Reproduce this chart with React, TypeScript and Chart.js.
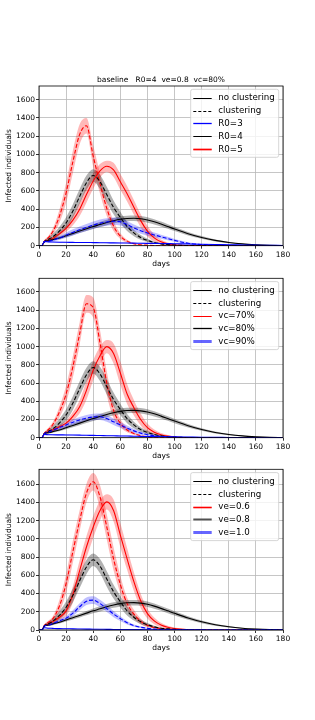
import React, { useEffect, useRef } from "react";
import { Chart, registerables } from "chart.js";

Chart.register(...registerables);

// ---------------- data ----------------
const days = [0, 2, 4, 7, 10, 15, 20, 25, 30, 35, 40, 45, 50, 55, 60, 65, 70, 75, 80, 85, 90, 95, 100, 110, 120, 130, 140, 150, 160, 170, 180];
const xTicks = [0, 20, 40, 60, 80, 100, 120, 140, 160, 180];
const yTicks = [0, 200, 400, 600, 800, 1000, 1200, 1400, 1600];

// baseline (R0=4, ve=0.8, vc=80%) shared by all three panels
const baseNoClust = [0, 0, 45, 55, 65, 85, 110, 135, 160, 185, 210, 232, 255, 274, 289, 298, 300, 295, 282, 262, 237, 210, 183, 132, 90, 58, 35, 20, 11, 5, 2];
const baseNoClustBand = [0, 0, 6, 10, 12, 15, 18, 20, 22, 24, 26, 28, 30, 30, 30, 30, 30, 30, 30, 29, 27, 25, 23, 19, 15, 11, 8, 5, 3, 2, 1];
const baseClust = [0, 0, 45, 70, 95, 160, 250, 380, 540, 690, 770, 700, 560, 420, 310, 210, 140, 90, 58, 35, 20, 12, 7, 2, 1, 0, 0, 0, 0, 0, 0];
const baseClustBand = [0, 0, 10, 20, 32, 45, 62, 75, 80, 78, 68, 78, 85, 75, 62, 50, 36, 26, 18, 12, 8, 5, 4, 1, 0, 0, 0, 0, 0, 0, 0];

// panel 1: R0
const r3NoClust = [0, 0, 45, 42, 40, 38, 37, 36, 35, 35, 34, 33, 32, 31, 30, 29, 28, 27, 26, 25, 24, 23, 22, 19, 16, 13, 10, 8, 6, 4, 3];
const flatBand = [0, 0, 4, 4, 4, 4, 4, 4, 4, 4, 4, 4, 4, 4, 4, 4, 4, 4, 4, 3, 3, 3, 3, 3, 3, 2, 2, 2, 1, 1, 1];
const r3Clust = [0, 0, 45, 52, 60, 85, 115, 145, 175, 200, 225, 245, 260, 268, 262, 232, 195, 165, 140, 118, 98, 78, 58, 27, 13, 6, 3, 1, 0, 0, 0];
const r3ClustBand = [0, 0, 7, 12, 14, 22, 29, 34, 36, 38, 40, 41, 41, 41, 41, 40, 37, 34, 30, 26, 23, 19, 16, 11, 6, 4, 2, 1, 0, 0, 0];
const r5NoClust = [0, 0, 45, 60, 80, 130, 190, 280, 400, 560, 710, 820, 870, 830, 700, 570, 420, 275, 160, 85, 42, 20, 9, 2, 0, 0, 0, 0, 0, 0, 0];
const r5NoClustBand = [0, 0, 8, 13, 20, 26, 36, 55, 75, 88, 87, 74, 62, 78, 87, 85, 80, 72, 58, 39, 26, 16, 8, 3, 0, 0, 0, 0, 0, 0, 0];
const r5Clust = [0, 0, 50, 90, 150, 320, 580, 920, 1220, 1315, 980, 680, 410, 215, 105, 50, 22, 10, 5, 2, 1, 0, 0, 0, 0, 0, 0, 0, 0, 0, 0];
const r5ClustBand = [0, 0, 13, 20, 32, 72, 110, 124, 110, 85, 117, 110, 85, 55, 31, 16, 8, 4, 3, 1, 0, 0, 0, 0, 0, 0, 0, 0, 0, 0, 0];

// panel 2: vaccination coverage
const vc70NoClust = [0, 0, 45, 65, 85, 120, 160, 235, 340, 520, 740, 900, 1000, 925, 710, 480, 330, 200, 110, 60, 32, 17, 8, 2, 0, 0, 0, 0, 0, 0, 0];
const vc70NoClustBand = [0, 0, 8, 13, 20, 23, 29, 48, 72, 104, 110, 98, 72, 110, 130, 110, 85, 65, 45, 29, 20, 13, 6, 3, 0, 0, 0, 0, 0, 0, 0];
const vc70Clust = [0, 0, 50, 90, 140, 280, 480, 780, 1140, 1470, 1430, 1040, 600, 300, 160, 85, 45, 22, 10, 5, 3, 1, 0, 0, 0, 0, 0, 0, 0, 0, 0];
const vc70ClustBand = [0, 0, 13, 20, 26, 58, 91, 117, 124, 98, 110, 143, 130, 85, 45, 26, 13, 6, 4, 1, 0, 0, 0, 0, 0, 0, 0, 0, 0, 0, 0];
const vc90NoClust = [0, 0, 35, 33, 32, 31, 30, 29, 28, 27, 25, 24, 22, 21, 19, 18, 16, 15, 13, 12, 11, 10, 9, 7, 5, 4, 3, 2, 1, 1, 0];
const vc90Clust = [0, 0, 45, 60, 80, 110, 140, 170, 195, 215, 228, 230, 210, 175, 140, 105, 75, 50, 33, 22, 14, 9, 5, 2, 1, 0, 0, 0, 0, 0, 0];
const vc90ClustBand = [0, 0, 7, 12, 14, 19, 24, 29, 31, 34, 36, 36, 36, 35, 32, 29, 24, 18, 13, 10, 6, 4, 2, 1, 0, 0, 0, 0, 0, 0, 0];

// panel 3: vaccine efficacy
const ve06NoClust = [0, 0, 45, 65, 90, 140, 210, 390, 650, 910, 1130, 1310, 1405, 1310, 1040, 780, 530, 320, 180, 100, 55, 30, 16, 5, 1, 0, 0, 0, 0, 0, 0];
const ve06NoClustBand = [0, 0, 7, 14, 18, 30, 54, 90, 114, 120, 120, 110, 84, 120, 132, 120, 102, 78, 54, 36, 24, 17, 11, 4, 1, 0, 0, 0, 0, 0, 0];
const ve06Clust = [0, 0, 50, 85, 120, 260, 510, 860, 1200, 1500, 1625, 1460, 1130, 780, 500, 290, 175, 95, 50, 27, 14, 7, 3, 1, 0, 0, 0, 0, 0, 0, 0];
const ve06ClustBand = [0, 0, 12, 18, 24, 66, 102, 120, 114, 102, 96, 126, 138, 126, 96, 66, 46, 31, 19, 12, 7, 4, 1, 0, 0, 0, 0, 0, 0, 0, 0];
const ve10NoClust = [0, 0, 25, 20, 18, 15, 14, 12, 11, 10, 9, 8, 7, 6, 5, 5, 4, 4, 3, 3, 2, 2, 1, 1, 1, 0, 0, 0, 0, 0, 0];
const ve10Clust = [0, 0, 45, 55, 70, 100, 130, 185, 255, 315, 328, 290, 235, 175, 125, 80, 48, 30, 18, 10, 6, 4, 2, 1, 0, 0, 0, 0, 0, 0, 0];
const ve10ClustBand = [0, 0, 7, 12, 14, 19, 24, 31, 38, 42, 42, 41, 38, 34, 26, 19, 13, 10, 6, 4, 2, 1, 0, 0, 0, 0, 0, 0, 0, 0, 0];

// ---------------- styling ----------------
const RED = "#ff0000";
const BLACK = "#000000";
const BLUE = "#0000ff";
const FONT = "'DejaVu Sans', 'Liberation Sans', sans-serif";

type Curve = { mean: number[]; band: number[]; color: string; dashed: boolean };
type LegendEntry = { label: string; color: string; width: number; dash?: number[]; halo?: string; haloWidth?: number };
type PanelCfg = {
  title?: string;
  canvasTop: number;
  canvasH: number;
  padTop: number;
  plotH: number;
  yMax: number;
  curves: Curve[];
  legend: LegendEntry[];
};

const bandColor = (c: string) =>
  c === RED ? "rgba(255,0,0,0.28)" : c === BLUE ? "rgba(0,0,255,0.25)" : "rgba(0,0,0,0.3)";

const commonLegend: LegendEntry[] = [
  { label: "no clustering", color: BLACK, width: 1 },
  { label: "clustering", color: BLACK, width: 1, dash: [3, 2] },
];

const panels: PanelCfg[] = [
  {
    title: "baseline   R0=4  ve=0.8  vc=80%",
    canvasTop: 70,
    canvasH: 206,
    padTop: 16,
    plotH: 159.7,
    yMax: 1750,
    curves: [
      { mean: r3NoClust, band: flatBand, color: BLUE, dashed: false },
      { mean: r3Clust, band: r3ClustBand, color: BLUE, dashed: true },
      { mean: baseNoClust, band: baseNoClustBand, color: BLACK, dashed: false },
      { mean: baseClust, band: baseClustBand, color: BLACK, dashed: true },
      { mean: r5NoClust, band: r5NoClustBand, color: RED, dashed: false },
      { mean: r5Clust, band: r5ClustBand, color: RED, dashed: true },
    ],
    legend: [
      ...commonLegend,
      { label: "R0=3", color: BLUE, width: 1.3 },
      { label: "R0=4", color: BLACK, width: 1 },
      { label: "R0=5", color: RED, width: 1, halo: "rgba(255,0,0,0.35)", haloWidth: 3 },
    ],
  },
  {
    canvasTop: 262,
    canvasH: 206,
    padTop: 16.3,
    plotH: 159.4,
    yMax: 1750,
    curves: [
      { mean: vc90NoClust, band: flatBand, color: BLUE, dashed: false },
      { mean: vc90Clust, band: vc90ClustBand, color: BLUE, dashed: true },
      { mean: baseNoClust, band: baseNoClustBand, color: BLACK, dashed: false },
      { mean: baseClust, band: baseClustBand, color: BLACK, dashed: true },
      { mean: vc70NoClust, band: vc70NoClustBand, color: RED, dashed: false },
      { mean: vc70Clust, band: vc70ClustBand, color: RED, dashed: true },
    ],
    legend: [
      ...commonLegend,
      { label: "vc=70%", color: RED, width: 1 },
      { label: "vc=80%", color: BLACK, width: 1, halo: "rgba(0,0,0,0.3)", haloWidth: 2 },
      { label: "vc=90%", color: "rgba(0,0,255,0.6)", width: 3 },
    ],
  },
  {
    canvasTop: 453,
    canvasH: 206,
    padTop: 16.3,
    plotH: 160.7,
    yMax: 1762,
    curves: [
      { mean: ve10NoClust, band: flatBand, color: BLUE, dashed: false },
      { mean: ve10Clust, band: ve10ClustBand, color: BLUE, dashed: true },
      { mean: baseNoClust, band: baseNoClustBand, color: BLACK, dashed: false },
      { mean: baseClust, band: baseClustBand, color: BLACK, dashed: true },
      { mean: ve06NoClust, band: ve06NoClustBand, color: RED, dashed: false },
      { mean: ve06Clust, band: ve06ClustBand, color: RED, dashed: true },
    ],
    legend: [
      ...commonLegend,
      { label: "ve=0.6", color: RED, width: 1, halo: "rgba(255,0,0,0.3)", haloWidth: 3 },
      { label: "ve=0.8", color: "#505050", width: 2 },
      { label: "ve=1.0", color: "rgba(0,0,255,0.6)", width: 3 },
    ],
  },
];

function buildDatasets(curves: Curve[]) {
  const ds: any[] = [];
  curves.forEach((c) => {
    ds.push({
      data: days.map((d, i) => ({ x: d, y: Math.max(0, c.mean[i] - c.band[i]) })),
      borderWidth: 0,
      borderColor: "rgba(0,0,0,0)",
      pointRadius: 0,
      fill: false,
      order: 2,
      cubicInterpolationMode: "monotone",
    });
    ds.push({
      data: days.map((d, i) => ({ x: d, y: c.mean[i] + c.band[i] })),
      borderWidth: 0,
      borderColor: "rgba(0,0,0,0)",
      backgroundColor: bandColor(c.color),
      pointRadius: 0,
      fill: "-1",
      order: 2,
      cubicInterpolationMode: "monotone",
    });
  });
  curves.forEach((c) => {
    ds.push({
      data: days.map((d, i) => ({ x: d, y: c.mean[i] })),
      borderColor: c.color,
      borderWidth: 1.1,
      borderDash: c.dashed ? [4, 2] : [],
      pointRadius: 0,
      fill: false,
      order: 1,
      cubicInterpolationMode: "monotone",
    });
  });
  return ds;
}

function overlayPlugin(cfg: PanelCfg) {
  return {
    id: "overlay",
    afterDraw(chart: any) {
      const ctx: CanvasRenderingContext2D = chart.ctx;
      const a = chart.chartArea;
      ctx.save();
      // frame
      ctx.strokeStyle = "#000";
      ctx.lineWidth = 0.8;
      ctx.strokeRect(a.left, a.top, a.right - a.left, a.bottom - a.top);
      // texts
      ctx.fillStyle = "#000";
      ctx.font = `7.5px ${FONT}`;
      ctx.textAlign = "center";
      ctx.textBaseline = "middle";
      const cx = (a.left + a.right) / 2;
      if (cfg.title) ctx.fillText(cfg.title, cx, a.top - 6);
      ctx.fillText("days", cx, a.bottom + 18.3);
      ctx.save();
      ctx.translate(9.5, (a.top + a.bottom) / 2);
      ctx.rotate(-Math.PI / 2);
      ctx.fillText("Infected individuals", 0, 0);
      ctx.restore();
      // legend
      const w = 88;
      const h = 68;
      const x0 = a.right - 4.3 - w;
      const y0 = a.top + 3.3;
      ctx.beginPath();
      const r = 2;
      ctx.moveTo(x0 + r, y0);
      ctx.lineTo(x0 + w - r, y0);
      ctx.quadraticCurveTo(x0 + w, y0, x0 + w, y0 + r);
      ctx.lineTo(x0 + w, y0 + h - r);
      ctx.quadraticCurveTo(x0 + w, y0 + h, x0 + w - r, y0 + h);
      ctx.lineTo(x0 + r, y0 + h);
      ctx.quadraticCurveTo(x0, y0 + h, x0, y0 + h - r);
      ctx.lineTo(x0, y0 + r);
      ctx.quadraticCurveTo(x0, y0, x0 + r, y0);
      ctx.closePath();
      ctx.fillStyle = "rgba(255,255,255,0.8)";
      ctx.fill();
      ctx.strokeStyle = "#cccccc";
      ctx.lineWidth = 0.8;
      ctx.stroke();
      ctx.font = `8.7px ${FONT}`;
      ctx.textAlign = "left";
      cfg.legend.forEach((e, i) => {
        const yt = y0 + 8.4 + i * 12.8;
        const y = Math.round(yt) + 0.5;
        const lx0 = x0 + 2.6;
        const lx1 = x0 + 21;
        if (e.halo) {
          ctx.setLineDash([]);
          ctx.strokeStyle = e.halo;
          ctx.lineWidth = e.haloWidth || 3;
          ctx.beginPath();
          ctx.moveTo(lx0, y);
          ctx.lineTo(lx1, y);
          ctx.stroke();
        }
        ctx.setLineDash(e.dash || []);
        ctx.strokeStyle = e.color;
        ctx.lineWidth = e.width;
        ctx.beginPath();
        ctx.moveTo(lx0, y);
        ctx.lineTo(lx1, y);
        ctx.stroke();
        ctx.setLineDash([]);
        ctx.fillStyle = "#000";
        ctx.fillText(e.label, x0 + 27.6, yt + 0.5);
      });
      ctx.restore();
    },
  };
}

function Panel({ cfg }: { cfg: PanelCfg }) {
  const ref = useRef<HTMLCanvasElement | null>(null);
  useEffect(() => {
    if (!ref.current) return;
    const xH = cfg.canvasH - cfg.padTop - cfg.plotH;
    const tickFont = { family: FONT, size: 7.5 };
    const grid = { color: "#b8b8b8", lineWidth: 0.8, tickLength: 3, tickColor: "#000", tickWidth: 0.8 };
    const chart = new Chart(ref.current, {
      type: "line",
      data: { datasets: buildDatasets(cfg.curves) },
      options: {
        animation: false,
        responsive: false,
        devicePixelRatio: 1,
        events: [],
        layout: { padding: { left: 0, right: 32, top: cfg.padTop, bottom: 0 } },
        plugins: {
          legend: { display: false },
          tooltip: { enabled: false },
          title: { display: false },
        },
        scales: {
          x: {
            type: "linear",
            min: 0,
            max: 180,
            afterBuildTicks: (s: any) => {
              s.ticks = xTicks.map((v) => ({ value: v }));
            },
            afterFit: (s: any) => {
              s.height = xH;
            },
            grid,
            border: { display: false },
            ticks: { font: tickFont, color: "#000", padding: 1.5, maxRotation: 0, autoSkip: false, callback: (v: any) => String(v) },
          },
          y: {
            type: "linear",
            min: 0,
            max: cfg.yMax,
            afterBuildTicks: (s: any) => {
              s.ticks = yTicks.map((v) => ({ value: v }));
            },
            afterFit: (s: any) => {
              s.width = 39;
            },
            grid,
            border: { display: false },
            ticks: { font: tickFont, color: "#000", padding: 1, autoSkip: false, callback: (v: any) => String(v) },
          },
        },
      } as any,
      plugins: [overlayPlugin(cfg)],
    });
    return () => chart.destroy();
  }, [cfg]);
  return (
    <canvas
      ref={ref}
      width={315}
      height={cfg.canvasH}
      style={{ position: "absolute", left: 0, top: cfg.canvasTop, width: 315, height: cfg.canvasH }}
    />
  );
}

export default function App() {
  return (
    <div style={{ position: "absolute", left: 0, top: 0, width: 315, height: 720, background: "#fff" }}>
      {panels.map((p, i) => (
        <Panel key={i} cfg={p} />
      ))}
    </div>
  );
}
